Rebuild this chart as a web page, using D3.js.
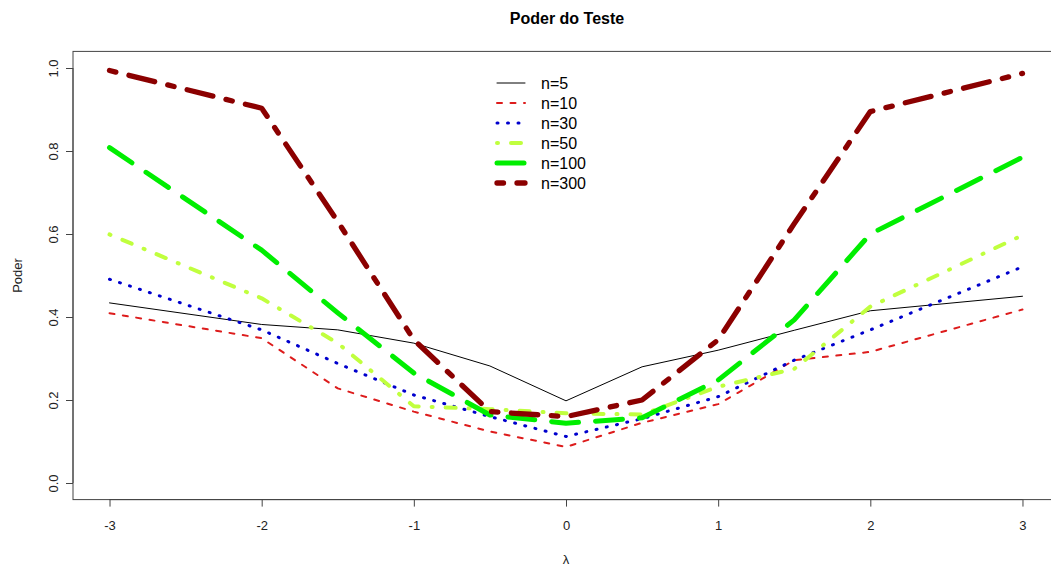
<!DOCTYPE html>
<html>
<head>
<meta charset="utf-8">
<script src="https://cdn.jsdelivr.net/npm/d3@7"></script>
<style>
  html, body { margin: 0; padding: 0; background: #fff; }
  svg { display: block; font-family: "Liberation Sans", Arial, sans-serif; }
</style>
</head>
<body>
<svg id="chart" width="1051" height="568"></svg>
<script>
// ---- data ----
const lambda = [-3, -2, -1.5, -1, -0.5, 0, 0.5, 1, 1.5, 2, 3];
const n5   = [0.434, 0.382, 0.369, 0.337, 0.282, 0.198, 0.280, 0.320, 0.368, 0.415, 0.450];
const n10  = [0.409, 0.349, 0.228, 0.172, 0.124, 0.087, 0.145, 0.190, 0.296, 0.316, 0.418];
const n30  = [0.491, 0.369, 0.288, 0.212, 0.160, 0.112, 0.155, 0.208, 0.296, 0.369, 0.521];
const n50  = [0.599, 0.445, 0.337, 0.185, 0.178, 0.168, 0.165, 0.232, 0.275, 0.425, 0.597];
const n100 = [0.808, 0.561, 0.410, 0.265, 0.164, 0.144, 0.157, 0.248, 0.393, 0.600, 0.785];
const n300 = [0.994, 0.903, 0.630, 0.345, 0.172, 0.160, 0.200, 0.345, 0.625, 0.895, 0.987];
const seriesNames = ["n=5", "n=10", "n=30", "n=50", "n=100", "n=300"];
const xTicks = [-3, -2, -1, 0, 1, 2, 3];
const yTicks = [0, 0.2, 0.4, 0.6, 0.8, 1.0];
const title = "Poder do Teste";
const xLabel = "\u03bb";
const yLabel = "Poder";

// ---- styles ----
const styles = [
  { color: "#000000", width: 1,   dash: null },
  { color: "#dd1c1c", width: 2,   dash: "5,8.5" },
  { color: "#0000cd", width: 3,   dash: "1,9.5" },
  { color: "#c0ff3e", width: 4,   dash: "1,13,10,13" },
  { color: "#00ee00", width: 5,   dash: "27,17" },
  { color: "#8b0000", width: 5.3, dash: "6.5,13.5,26.5,13.5" }
];
const allSeries = [n5, n10, n30, n50, n100, n300];

const svg = d3.select("#chart");
const x = d3.scaleLinear().domain([-3.24, 3.24]).range([73, 1059]);
const y = d3.scaleLinear().domain([-0.04, 1.04]).range([499.6, 51.4]);

// box
svg.append("rect")
  .attr("x", x(-3.24)).attr("y", y(1.04))
  .attr("width", x(3.24) - x(-3.24)).attr("height", y(-0.04) - y(1.04))
  .attr("fill", "none").attr("stroke", "#444").attr("stroke-width", 1);

// x axis
const xAxis = d3.axisBottom(x).tickValues(xTicks).tickSize(7).tickPadding(14)
  .tickFormat(d => d3.format("d")(d).replace("\u2212", "-"));
const gx = svg.append("g").attr("transform", `translate(0,${y(-0.04)})`).call(xAxis);
gx.select(".domain").attr("d", `M${x(-3)},0H${x(3)}`).attr("stroke", "#444");
gx.selectAll(".tick line").attr("stroke", "#444");
gx.selectAll(".tick text").attr("font-size", 13).attr("fill", "#222")
  .attr("font-family", "Liberation Sans, Arial, sans-serif");

// y axis
const yAxis = d3.axisLeft(y).tickValues(yTicks).tickSize(7).tickFormat(d3.format(".1f"));
const gy = svg.append("g").attr("transform", `translate(${x(-3.24)},0)`).call(yAxis);
gy.select(".domain").attr("d", `M0,${y(0)}V${y(1)}`).attr("stroke", "#444");
gy.selectAll(".tick line").attr("stroke", "#444");
gy.selectAll(".tick text")
  .attr("font-size", 13).attr("fill", "#222")
  .attr("font-family", "Liberation Sans, Arial, sans-serif")
  .attr("x", null).attr("dy", null)
  .attr("text-anchor", "middle")
  .attr("transform", "translate(-20,0) rotate(-90)")
  .attr("dominant-baseline", "central");

// lines
const line = d3.line().x((d, i) => x(lambda[i])).y(d => y(d));
allSeries.forEach((s, k) => {
  const st = styles[k];
  const p = svg.append("path").datum(s)
    .attr("d", line)
    .attr("fill", "none")
    .attr("stroke", st.color)
    .attr("stroke-width", st.width)
    .attr("stroke-linecap", "round")
    .attr("stroke-linejoin", "round");
  if (st.dash) p.attr("stroke-dasharray", st.dash);
});

// legend
const lg = svg.append("g");
seriesNames.forEach((name, k) => {
  const st = styles[k];
  const yy = 83 + k * 20;
  const l = lg.append("line")
    .attr("x1", 497).attr("x2", 525).attr("y1", yy).attr("y2", yy)
    .attr("stroke", st.color).attr("stroke-width", st.width)
    .attr("stroke-linecap", "round");
  if (st.dash) l.attr("stroke-dasharray", st.dash);
  lg.append("text").attr("x", 541).attr("y", yy)
    .attr("dominant-baseline", "central")
    .attr("font-size", 16).attr("fill", "#000").text(name);
});

// titles
svg.append("text").attr("x", 567).attr("y", 18)
  .attr("text-anchor", "middle").attr("dominant-baseline", "central")
  .attr("font-weight", "bold").attr("font-size", 16).text(title);
svg.append("text").attr("x", 566).attr("y", 559)
  .attr("text-anchor", "middle").attr("dominant-baseline", "central")
  .attr("font-size", 13).attr("fill", "#222").text(xLabel);
svg.append("text")
  .attr("transform", `translate(17,${(y(-0.04) + y(1.04)) / 2}) rotate(-90)`)
  .attr("text-anchor", "middle").attr("dominant-baseline", "central")
  .attr("font-size", 13).attr("fill", "#222").text(yLabel);
</script>
</body>
</html>
